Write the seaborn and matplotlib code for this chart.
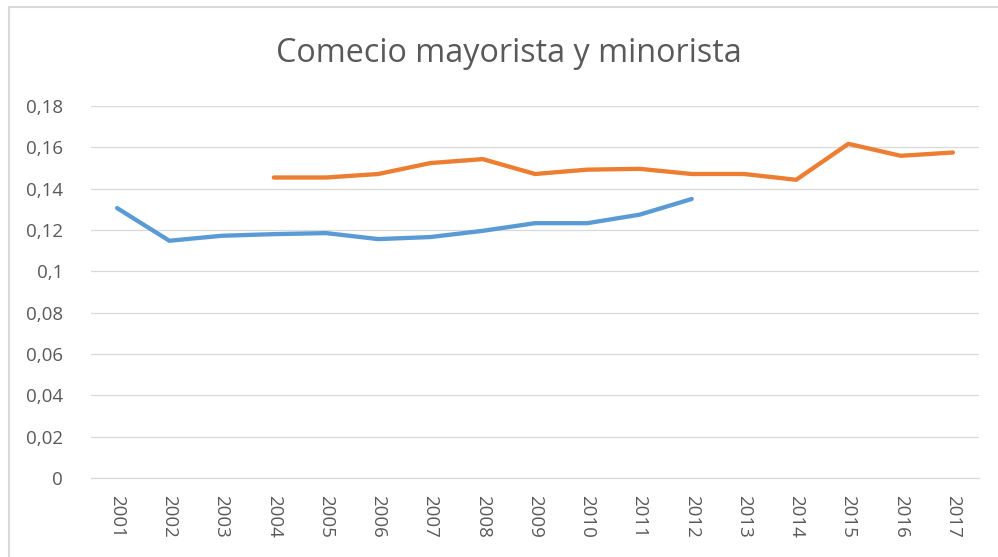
import numpy as np
import pandas as pd
import matplotlib
matplotlib.use("Agg")
import matplotlib.pyplot as plt
import seaborn as sns
from matplotlib.ticker import FuncFormatter, MultipleLocator

years = list(range(2001, 2018))
serie_a = [0.1306, 0.1148, 0.1172, 0.1180, 0.1185, 0.1156, 0.1166, 0.1196,
           0.1233, 0.1233, 0.1274, 0.1350,
           None, None, None, None, None]
serie_b = [None, None, None, 0.1454, 0.1454, 0.1471, 0.1524, 0.1543,
           0.1471, 0.1492, 0.1496, 0.1471, 0.1471, 0.1443, 0.1617, 0.1559, 0.1575]
title = "Comecio mayorista y minorista"

df = pd.DataFrame({
    "year": years * 2,
    "value": serie_a + serie_b,
    "serie": ["a"] * len(years) + ["b"] * len(years),
}).dropna()

sns.set_style("white")
plt.rcParams["font.family"] = ["Open Sans", "DejaVu Sans"]

grey = "#595959"
fig = plt.figure(figsize=(9.98, 5.57), dpi=100)
ax = fig.add_axes([91 / 998, 79 / 557, 888 / 998, 372 / 557])

sns.lineplot(data=df, x="year", y="value", hue="serie",
             palette={"a": "#5B9BD5", "b": "#ED7D31"},
             linewidth=3.1, legend=False, ax=ax,
             solid_capstyle="round", solid_joinstyle="round")

ax.set_xlim(2000.5, 2017.5)
ax.set_ylim(0, 0.18)
ax.yaxis.set_major_locator(MultipleLocator(0.02))
ax.yaxis.set_major_formatter(FuncFormatter(
    lambda v, p: "0" if abs(v) < 1e-9 else f"{v:.2f}".rstrip("0").replace(".", ",")))
ax.set_xticks(years)
ax.set_xticklabels([str(y) for y in years], rotation=270)
ax.tick_params(axis="both", length=0, labelsize=13.5, labelcolor=grey)
ax.tick_params(axis="y", pad=20)
ax.tick_params(axis="x", pad=12)
ax.grid(axis="y", color="#D9D9D9", linewidth=0.9)
ax.set_axisbelow(True)
for s in ["top", "right", "left"]:
    ax.spines[s].set_visible(False)
ax.spines["bottom"].set_color("#D9D9D9")
ax.spines["bottom"].set_linewidth(0.9)
ax.set_xlabel("")
ax.set_ylabel("")

fig.text(509 / 998, 1 - 53 / 557, title, ha="center", va="center",
         fontsize=23.3, color=grey)

# chart area border (only top and left visible in the crop)
fig.add_artist(plt.Line2D([9 / 998, 9 / 998], [0, 1 - 7 / 557],
                          transform=fig.transFigure, color="#D9D9D9", linewidth=1.5))
fig.add_artist(plt.Line2D([9 / 998, 1], [1 - 7 / 557, 1 - 7 / 557],
                          transform=fig.transFigure, color="#D9D9D9", linewidth=1.5))

fig.savefig("out.png", dpi=100)
